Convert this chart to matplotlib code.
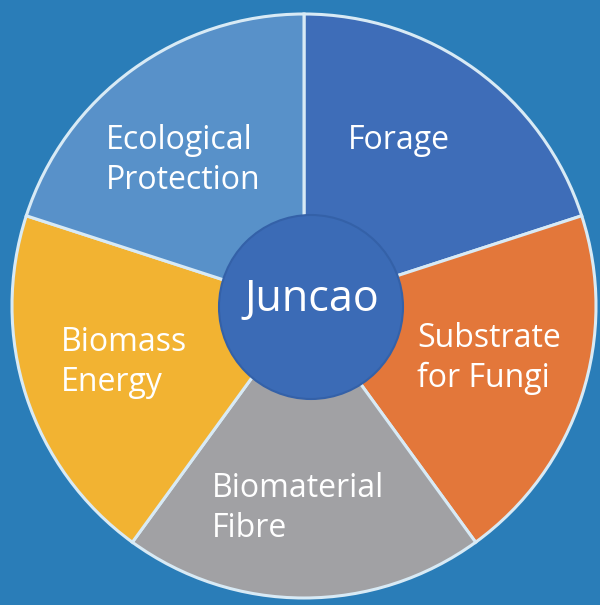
import matplotlib.pyplot as plt
from matplotlib.patches import Circle

# five equal uses of Juncao, clockwise from 12 o'clock
categories = ["Forage", "Substrate\nfor Fungi", "Biomaterial\nFibre", "Biomass\nEnergy", "Ecological\nProtection"]
shares = [1, 1, 1, 1, 1]
colors = ["#3e6db8", "#e3773a", "#a1a1a4", "#f2b332", "#5891c9"]
centre_label = "Juncao"

# label anchors in pixels (left x, first baseline y from top)
label_pos = [(348, 149), (417, 347), (212, 497), (61, 351), (106, 149)]

W, H = 600, 605
bg = "#2a7db8"

fig = plt.figure(figsize=(W / 100, H / 100), dpi=100, facecolor=bg)
ax = fig.add_axes([0, 0, 1, 1])
ax.set_facecolor(bg)

ax.pie(shares, colors=colors, startangle=90, counterclock=False,
       center=(304, H - 306), radius=292,
       wedgeprops=dict(edgecolor="#d8eaf5", linewidth=2.2))

ax.add_patch(Circle((311, H - 307), 92, facecolor="#3b6bb6",
                    edgecolor="#3461a8", linewidth=1.5, zorder=5))
ax.text(312, H - 311, centre_label, color="white", fontsize=31,
        family="Open Sans", ha="center", va="baseline", zorder=6)

for lab, (x, y) in zip(categories, label_pos):
    for i, line in enumerate(lab.split("\n")):
        ax.text(x, H - (y + i * 40), line, color="white", fontsize=23,
                family="Open Sans", ha="left", va="baseline", zorder=6)

ax.set_xlim(0, W)
ax.set_ylim(0, H)
ax.set_aspect("equal")
ax.axis("off")

fig.savefig("out.png", dpi=100, facecolor=bg)
